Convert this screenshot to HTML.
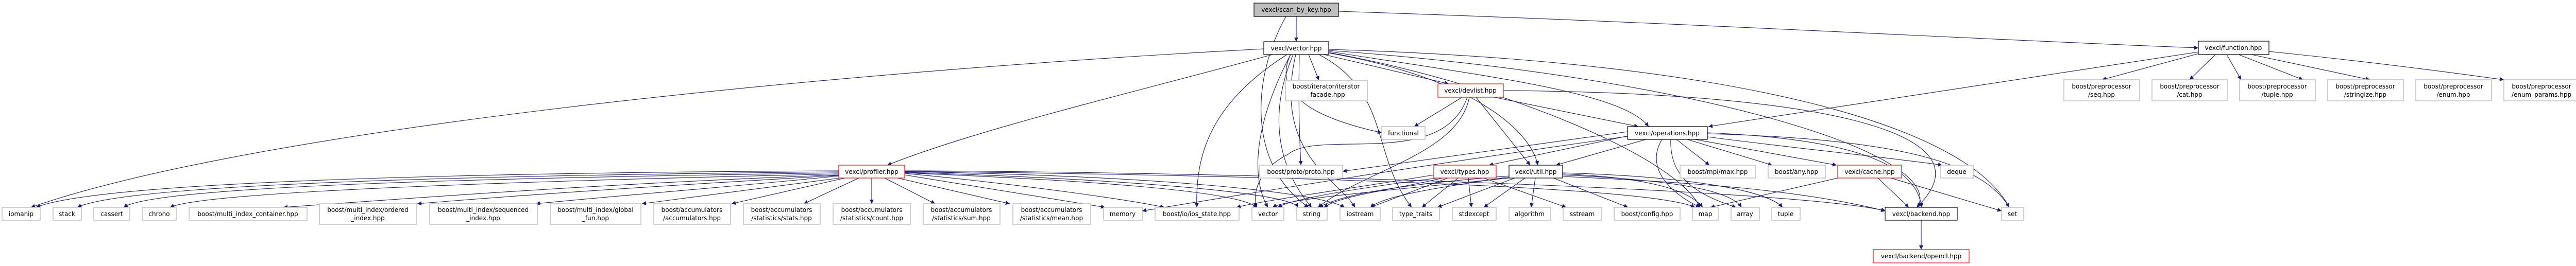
<!DOCTYPE html>
<html><head><meta charset="utf-8"><style>
html,body{margin:0;padding:0;background:#fff;}
svg{display:block;}
text{font-family:"DejaVu Sans","Liberation Sans",sans-serif;font-size:12px;fill:#000;}
.e{fill:none;stroke:#191970;stroke-width:1.1;marker-end:url(#a);}
.ext{fill:#fff;stroke:#bfbfbf;stroke-width:1.5;}
.doc{fill:#fff;stroke:#000;stroke-width:1.2;}
.red{fill:#fff;stroke:#ff0000;stroke-width:1.2;}
.root{fill:#bfbfbf;stroke:#000;stroke-width:1.2;}
</style></head><body>
<svg width="5012" height="517" viewBox="0 0 5012 517" xmlns="http://www.w3.org/2000/svg">
<defs><marker id="a" viewBox="0 0 10 10" refX="10" refY="5" markerWidth="10" markerHeight="8" markerUnits="userSpaceOnUse" orient="auto"><path d="M0,0 L10,5 L0,10 z" fill="#191970"/></marker></defs>
<g>
<!-- scan_by_key -->
<path class="e" d="M2516 32 L2516 81"/>
<path class="e" d="M2598 22 C3300 45 3900 80 4267 93"/>
<path class="e" d="M2496 32 C2430 150 2420 320 2540 403"/>
<!-- vector.hpp -->
<path class="e" d="M2453 95 C1600 140 500 250 60 403"/>
<path class="e" d="M2470 106 C2200 180 1900 250 1722 321"/>
<path class="e" d="M2540 106 L2560 156"/>
<path class="e" d="M2570 106 L2812 163"/>
<path class="e" d="M2505 106 C2460 200 2600 240 2682 258"/>
<path class="e" d="M2522 106 C2520 200 2522 260 2525 321"/>
<path class="e" d="M2505 106 C2430 250 2430 350 2461 403"/>
<path class="e" d="M2510 106 C2450 250 2500 350 2546 403"/>
<path class="e" d="M2515 106 C2470 300 2600 350 2630 403"/>
<path class="e" d="M2498 106 C2350 200 2320 300 2323 403"/>
<path class="e" d="M2560 106 C2700 180 2660 300 2740 403"/>
<path class="e" d="M2579 100 C2900 150 3150 180 3200 246"/>
<path class="e" d="M2579 103 C2850 150 2970 250 2985 321"/>
<path class="e" d="M2579 98 C3300 150 3780 300 3722 403"/>
<path class="e" d="M2579 96 C3400 120 3820 250 3900 403"/>
<path class="e" d="M2579 102 C2900 160 3250 300 3300 403"/>
<!-- devlist -->
<path class="e" d="M2838 189 L2745 246"/>
<path class="e" d="M2900 189 L3180 246"/>
<path class="e" d="M2865 189 L2970 321"/>
<path class="e" d="M2852 189 C2830 300 2650 330 2558 403"/>
<path class="e" d="M2848 189 C2800 330 2560 250 2500 300 C2440 330 2430 380 2440 403"/>
<path class="e" d="M2918 176 C3500 180 3880 250 3720 403"/>
<!-- operations -->
<path class="e" d="M3159 256 L2606 333"/>
<path class="e" d="M3170 262 L2890 321"/>
<path class="e" d="M3195 271 L3020 321"/>
<path class="e" d="M3254 271 L3318 321"/>
<path class="e" d="M3275 271 L3440 321"/>
<path class="e" d="M3290 271 L3565 321"/>
<path class="e" d="M3314 266 C3500 290 3700 310 3770 321"/>
<path class="e" d="M3314 260 C3700 270 3850 320 3900 403"/>
<path class="e" d="M3314 258 C3600 270 3720 320 3730 403"/>
<path class="e" d="M3226 271 C3190 330 3250 380 3300 403"/>
<path class="e" d="M3243 271 C3240 350 3300 380 3370 403"/>
<path class="e" d="M3159 265 C2700 330 2400 380 2217 410"/>
<!-- function -->
<path class="e" d="M4267 101 L3316 246"/>
<path class="e" d="M4268 104 L4080 155"/>
<path class="e" d="M4300 106 L4250 155"/>
<path class="e" d="M4322 106 L4350 155"/>
<path class="e" d="M4345 106 L4470 155"/>
<path class="e" d="M4370 106 L4600 155"/>
<path class="e" d="M4404 100 C4600 120 4750 140 4860 155"/>
<!-- profiler -->
<path class="e" d="M1628 332 C1000 335 200 350 70 403"/>
<path class="e" d="M1628 334 C1000 340 250 355 150 403"/>
<path class="e" d="M1628 336 C1000 345 300 360 240 403"/>
<path class="e" d="M1628 338 C1100 350 400 370 330 403"/>
<path class="e" d="M1628 340 C1200 355 800 385 550 403"/>
<path class="e" d="M1628 341 C1300 360 1000 380 810 396"/>
<path class="e" d="M1628 342 C1400 365 1200 380 1040 396"/>
<path class="e" d="M1630 346 L1246 396"/>
<path class="e" d="M1640 346 L1420 396"/>
<path class="e" d="M1667 346 L1560 396"/>
<path class="e" d="M1692 346 L1692 396"/>
<path class="e" d="M1717 346 L1815 396"/>
<path class="e" d="M1742 346 L1960 396"/>
<path class="e" d="M1756 340 L2145 403"/>
<path class="e" d="M1756 337 C2000 360 2200 390 2260 403"/>
<path class="e" d="M1756 336 C2100 350 2400 370 2440 403"/>
<path class="e" d="M1756 335 C2100 345 2500 370 2520 403"/>
<path class="e" d="M1756 334 C2200 340 2550 370 2610 403"/>
<path class="e" d="M1756 333 C2400 340 3200 360 3290 403"/>
<path class="e" d="M1756 332 C2500 335 3500 370 3660 410"/>
<!-- types -->
<path class="e" d="M2783 340 C2600 370 2450 390 2400 403"/>
<path class="e" d="M2790 346 C2600 370 2500 390 2480 403"/>
<path class="e" d="M2800 346 C2700 370 2600 380 2570 403"/>
<path class="e" d="M2810 346 L2660 403"/>
<path class="e" d="M2830 346 L2760 403"/>
<path class="e" d="M2850 346 L2856 403"/>
<path class="e" d="M2880 346 L3040 403"/>
<!-- util -->
<path class="e" d="M2929 342 C2700 360 2600 380 2560 403"/>
<path class="e" d="M2929 344 C2750 370 2680 385 2660 403"/>
<path class="e" d="M2940 346 L2790 403"/>
<path class="e" d="M2960 346 L2880 403"/>
<path class="e" d="M2980 346 L2972 403"/>
<path class="e" d="M3015 346 L3160 403"/>
<path class="e" d="M3033 338 C3200 345 3280 370 3305 403"/>
<path class="e" d="M3033 340 C3250 350 3360 370 3380 403"/>
<path class="e" d="M3033 336 C3200 340 3420 360 3460 403"/>
<path class="e" d="M3033 343 C3300 355 3500 370 3659 410"/>
<path class="e" d="M2929 346 C2700 370 2500 385 2470 403"/>
<!-- cache -->
<path class="e" d="M3567 346 L3320 403"/>
<path class="e" d="M3645 346 L3705 403"/>
<path class="e" d="M3670 346 L3885 410"/>
<!-- backend -->
<path class="e" d="M3729 428 L3729 485"/>
</g>
<g>
<rect class="root" x="2434" y="6" width="164" height="26"/><text x="2516" y="23" text-anchor="middle">vexcl/scan_by_key.hpp</text>
<rect class="doc" x="2453" y="81" width="126" height="25"/><text x="2516" y="98" text-anchor="middle">vexcl/vector.hpp</text>
<rect class="doc" x="4267" y="80" width="137" height="26"/><text x="4335" y="97" text-anchor="middle">vexcl/function.hpp</text>
<rect class="ext" x="2495" y="156" width="159" height="40"/><text x="2574" y="172" text-anchor="middle">boost/iterator/iterator</text><text x="2574" y="188" text-anchor="middle">_facade.hpp</text>
<rect class="red" x="2791" y="163" width="127" height="26"/><text x="2854" y="180" text-anchor="middle">vexcl/devlist.hpp</text>
<rect class="ext" x="2682" y="246" width="84" height="25"/><text x="2724" y="263" text-anchor="middle">functional</text>
<rect class="doc" x="3159" y="246" width="155" height="25"/><text x="3236" y="263" text-anchor="middle">vexcl/operations.hpp</text>
<rect class="red" x="1628" y="321" width="128" height="25"/><text x="1692" y="338" text-anchor="middle">vexcl/profiler.hpp</text>
<rect class="ext" x="2444" y="321" width="162" height="25"/><text x="2525" y="338" text-anchor="middle">boost/proto/proto.hpp</text>
<rect class="red" x="2783" y="321" width="121" height="25"/><text x="2843" y="338" text-anchor="middle">vexcl/types.hpp</text>
<rect class="doc" x="2929" y="321" width="104" height="25"/><text x="2981" y="338" text-anchor="middle">vexcl/util.hpp</text>
<rect class="ext" x="3261" y="321" width="146" height="25"/><text x="3334" y="338" text-anchor="middle">boost/mpl/max.hpp</text>
<rect class="ext" x="3432" y="321" width="111" height="25"/><text x="3487" y="338" text-anchor="middle">boost/any.hpp</text>
<rect class="red" x="3567" y="321" width="124" height="25"/><text x="3629" y="338" text-anchor="middle">vexcl/cache.hpp</text>
<rect class="ext" x="3767" y="321" width="63" height="25"/><text x="3798" y="338" text-anchor="middle">deque</text>

<rect class="ext" x="4006" y="155" width="147" height="41"/><text x="4079" y="172" text-anchor="middle">boost/preprocessor</text><text x="4079" y="188" text-anchor="middle">/seq.hpp</text>
<rect class="ext" x="4177" y="155" width="146" height="41"/><text x="4250" y="172" text-anchor="middle">boost/preprocessor</text><text x="4250" y="188" text-anchor="middle">/cat.hpp</text>
<rect class="ext" x="4347" y="155" width="147" height="41"/><text x="4420" y="172" text-anchor="middle">boost/preprocessor</text><text x="4420" y="188" text-anchor="middle">/tuple.hpp</text>
<rect class="ext" x="4518" y="155" width="147" height="41"/><text x="4591" y="172" text-anchor="middle">boost/preprocessor</text><text x="4591" y="188" text-anchor="middle">/stringize.hpp</text>
<rect class="ext" x="4689" y="155" width="147" height="41"/><text x="4762" y="172" text-anchor="middle">boost/preprocessor</text><text x="4762" y="188" text-anchor="middle">/enum.hpp</text>
<rect class="ext" x="4860" y="155" width="146" height="41"/><text x="4933" y="172" text-anchor="middle">boost/preprocessor</text><text x="4933" y="188" text-anchor="middle">/enum_params.hpp</text>

<rect class="ext" x="4" y="403" width="74" height="25"/><text x="41" y="420" text-anchor="middle">iomanip</text>
<rect class="ext" x="103" y="403" width="55" height="25"/><text x="130" y="420" text-anchor="middle">stack</text>
<rect class="ext" x="182" y="403" width="70" height="25"/><text x="217" y="420" text-anchor="middle">cassert</text>
<rect class="ext" x="276" y="403" width="66" height="25"/><text x="309" y="420" text-anchor="middle">chrono</text>
<rect class="ext" x="367" y="403" width="229" height="25"/><text x="481" y="420" text-anchor="middle">boost/multi_index_container.hpp</text>
<rect class="ext" x="620" y="396" width="189" height="40"/><text x="714" y="412" text-anchor="middle">boost/multi_index/ordered</text><text x="714" y="428" text-anchor="middle">_index.hpp</text>
<rect class="ext" x="834" y="396" width="209" height="40"/><text x="938" y="412" text-anchor="middle">boost/multi_index/sequenced</text><text x="938" y="428" text-anchor="middle">_index.hpp</text>
<rect class="ext" x="1068" y="396" width="176" height="40"/><text x="1156" y="412" text-anchor="middle">boost/multi_index/global</text><text x="1156" y="428" text-anchor="middle">_fun.hpp</text>
<rect class="ext" x="1269" y="396" width="149" height="40"/><text x="1343" y="412" text-anchor="middle">boost/accumulators</text><text x="1343" y="428" text-anchor="middle">/accumulators.hpp</text>
<rect class="ext" x="1443" y="396" width="149" height="40"/><text x="1517" y="412" text-anchor="middle">boost/accumulators</text><text x="1517" y="428" text-anchor="middle">/statistics/stats.hpp</text>
<rect class="ext" x="1617" y="396" width="150" height="40"/><text x="1692" y="412" text-anchor="middle">boost/accumulators</text><text x="1692" y="428" text-anchor="middle">/statistics/count.hpp</text>
<rect class="ext" x="1792" y="396" width="149" height="40"/><text x="1866" y="412" text-anchor="middle">boost/accumulators</text><text x="1866" y="428" text-anchor="middle">/statistics/sum.hpp</text>
<rect class="ext" x="1966" y="396" width="151" height="40"/><text x="2041" y="412" text-anchor="middle">boost/accumulators</text><text x="2041" y="428" text-anchor="middle">/statistics/mean.hpp</text>
<rect class="ext" x="2142" y="403" width="75" height="25"/><text x="2179" y="420" text-anchor="middle">memory</text>
<rect class="ext" x="2242" y="403" width="163" height="25"/><text x="2323" y="420" text-anchor="middle">boost/io/ios_state.hpp</text>
<rect class="ext" x="2430" y="403" width="62" height="25"/><text x="2461" y="420" text-anchor="middle">vector</text>
<rect class="ext" x="2517" y="403" width="59" height="25"/><text x="2546" y="420" text-anchor="middle">string</text>
<rect class="ext" x="2601" y="403" width="78" height="25"/><text x="2640" y="420" text-anchor="middle">iostream</text>
<rect class="ext" x="2703" y="403" width="91" height="25"/><text x="2748" y="420" text-anchor="middle">type_traits</text>
<rect class="ext" x="2819" y="403" width="85" height="25"/><text x="2861" y="420" text-anchor="middle">stdexcept</text>
<rect class="ext" x="2929" y="403" width="81" height="25"/><text x="2969" y="420" text-anchor="middle">algorithm</text>
<rect class="ext" x="3034" y="403" width="75" height="25"/><text x="3071" y="420" text-anchor="middle">sstream</text>
<rect class="ext" x="3133" y="403" width="128" height="25"/><text x="3197" y="420" text-anchor="middle">boost/config.hpp</text>
<rect class="ext" x="3285" y="403" width="50" height="25"/><text x="3310" y="420" text-anchor="middle">map</text>
<rect class="ext" x="3360" y="403" width="55" height="25"/><text x="3387" y="420" text-anchor="middle">array</text>
<rect class="ext" x="3439" y="403" width="55" height="25"/><text x="3466" y="420" text-anchor="middle">tuple</text>
<rect class="doc" x="3659" y="403" width="140" height="25"/><text x="3729" y="420" text-anchor="middle">vexcl/backend.hpp</text>
<rect class="ext" x="3885" y="403" width="43" height="25"/><text x="3906" y="420" text-anchor="middle">set</text>
<rect class="red" x="3636" y="485" width="186" height="26"/><text x="3729" y="502" text-anchor="middle">vexcl/backend/opencl.hpp</text>
</g>
</svg>
</body></html>
